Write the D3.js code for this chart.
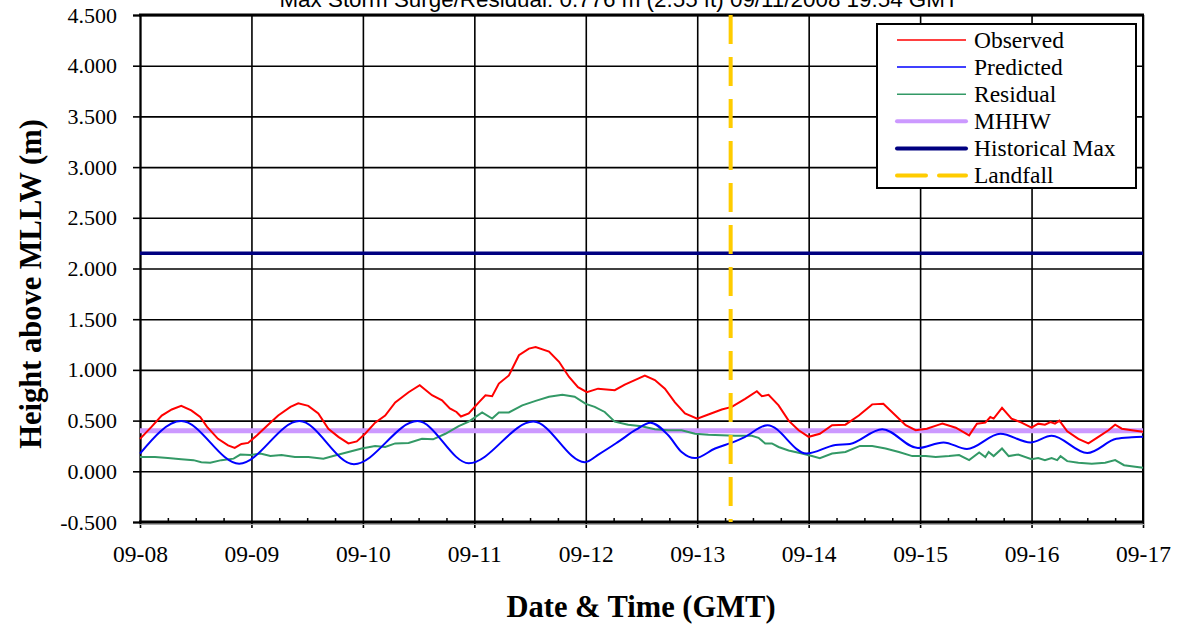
<!DOCTYPE html>
<html><head><meta charset="utf-8">
<script src="https://cdn.jsdelivr.net/npm/d3@7"></script>
<style>html,body{margin:0;padding:0;background:#fff}svg{display:block}</style>
</head><body>
<svg id="chart" width="1179" height="624"></svg>
<script>
// ---------- data (time in days since 09-08 00:00 GMT) ----------
const titleText = "Max Storm Surge/Residual: 0.776 m (2.55 ft) 09/11/2008 19:54 GMT";
const dayLabels = ["09-08","09-09","09-10","09-11","09-12","09-13","09-14","09-15","09-16","09-17"];
const yTickValues = [-0.5,0,0.5,1,1.5,2,2.5,3,3.5,4,4.5];
const seriesNames = ["Observed","Predicted","Residual","MHHW","Historical Max","Landfall"];

const obsDays = [0,0.105,0.195,0.285,0.37,0.46,0.54,0.6,0.7,0.79,0.85,0.91,0.97,1.05,1.15,1.24,1.35,1.42,1.51,1.6,1.69,1.78,1.87,1.945,2.02,2.11,2.2,2.29,2.41,2.51,2.62,2.71,2.78,2.84,2.88,2.95,3.04,3.1,3.16,3.22,3.31,3.4,3.49,3.55,3.67,3.76,3.85,3.93,4.01,4.11,4.26,4.35,4.44,4.53,4.62,4.71,4.8,4.89,5.0,5.1,5.22,5.31,5.43,5.535,5.58,5.64,5.73,5.82,5.91,6.0,6.1,6.21,6.33,6.45,6.57,6.67,6.78,6.87,6.96,7.06,7.17,7.2,7.32,7.44,7.51,7.585,7.63,7.66,7.735,7.82,7.91,8.0,8.06,8.12,8.17,8.21,8.25,8.32,8.42,8.51,8.6,8.69,8.75,8.81,8.9,9.0];
const obsValues = [0.32,0.44,0.55,0.61,0.645,0.60,0.535,0.44,0.32,0.255,0.23,0.27,0.28,0.355,0.46,0.55,0.635,0.67,0.645,0.57,0.42,0.34,0.275,0.295,0.37,0.48,0.55,0.68,0.78,0.85,0.75,0.70,0.62,0.585,0.54,0.57,0.68,0.75,0.74,0.865,0.945,1.145,1.21,1.225,1.18,1.08,0.93,0.83,0.78,0.815,0.80,0.855,0.90,0.945,0.90,0.815,0.68,0.57,0.52,0.56,0.61,0.635,0.715,0.79,0.74,0.755,0.65,0.50,0.405,0.34,0.37,0.455,0.46,0.55,0.66,0.665,0.55,0.455,0.405,0.42,0.46,0.47,0.43,0.355,0.47,0.48,0.535,0.52,0.625,0.52,0.48,0.43,0.47,0.46,0.485,0.47,0.50,0.395,0.32,0.275,0.34,0.405,0.46,0.42,0.405,0.39];

const predDays = [0,0.37,0.89,1.43,1.92,2.49,2.95,3.53,3.99,4.12,4.29,4.45,4.58,4.74,4.86,4.98,5.16,5.34,5.43,5.63,5.98,6.24,6.37,6.66,6.98,7.21,7.42,7.72,7.99,8.18,8.5,8.76,8.9,9.0];
const predValues = [0.175,0.495,0.075,0.495,0.07,0.495,0.08,0.49,0.09,0.17,0.29,0.41,0.48,0.355,0.19,0.13,0.225,0.295,0.34,0.455,0.175,0.26,0.27,0.415,0.23,0.285,0.22,0.37,0.285,0.35,0.18,0.32,0.335,0.34];

const resDays = [0,0.135,0.25,0.37,0.48,0.55,0.63,0.73,0.84,0.9,0.99,1.08,1.17,1.27,1.39,1.51,1.645,1.75,1.87,1.99,2.11,2.2,2.29,2.41,2.53,2.63,2.74,2.86,2.95,3.07,3.16,3.22,3.31,3.43,3.55,3.67,3.79,3.9,4.0,4.08,4.17,4.26,4.38,4.5,4.62,4.74,4.86,4.98,5.1,5.22,5.34,5.49,5.55,5.61,5.67,5.73,5.82,5.94,6.03,6.1,6.21,6.33,6.46,6.57,6.69,6.81,6.93,7.05,7.14,7.26,7.35,7.44,7.53,7.585,7.615,7.66,7.735,7.795,7.88,8.0,8.06,8.12,8.18,8.23,8.26,8.32,8.42,8.54,8.66,8.75,8.83,8.93,9.0];
const resValues = [0.14,0.14,0.13,0.12,0.11,0.09,0.085,0.11,0.125,0.165,0.16,0.175,0.15,0.16,0.14,0.14,0.125,0.155,0.19,0.225,0.25,0.24,0.275,0.28,0.32,0.315,0.37,0.445,0.49,0.58,0.52,0.58,0.58,0.65,0.695,0.735,0.755,0.735,0.665,0.635,0.585,0.49,0.46,0.445,0.415,0.405,0.405,0.37,0.36,0.355,0.35,0.35,0.33,0.275,0.275,0.24,0.205,0.175,0.15,0.13,0.175,0.19,0.25,0.25,0.225,0.19,0.15,0.15,0.14,0.15,0.16,0.11,0.185,0.14,0.19,0.15,0.225,0.15,0.165,0.12,0.13,0.11,0.13,0.11,0.15,0.10,0.085,0.075,0.085,0.11,0.06,0.045,0.035];

const mhhwValue = 0.40;
const histMaxValue = 2.15;
const landfallDay = 5.30;

// ---------- layout ----------
const svg = d3.select("#chart");
const L = 140, R = 1143, T = 15, B = 522;
const x = d3.scaleLinear().domain([0, 9]).range([L, R]);
const y = d3.scaleLinear().domain([-0.5, 4.5]).range([B, T]);
const serif = "'Times New Roman','Liberation Serif',serif";

// title (clipped at top of canvas, as in the original)
svg.append("text").attr("x", 619).attr("y", 7).attr("text-anchor", "middle")
  .attr("font-family", "Arial,'Liberation Sans',sans-serif").attr("font-size", 22.4)
  .text(titleText);

// horizontal gridlines
const gy = svg.append("g").attr("transform", `translate(${L},0)`)
  .call(d3.axisLeft(y).tickValues(yTickValues).tickSize(-(R - L)).tickFormat(""));
gy.select(".domain").remove();
gy.selectAll("line").attr("stroke", "#000").attr("stroke-width", 1.6);

// vertical gridlines
const gx = svg.append("g").attr("transform", `translate(0,${B})`)
  .call(d3.axisBottom(x).tickValues(d3.range(0, 10)).tickSize(-(B - T)).tickFormat(""));
gx.select(".domain").remove();
gx.selectAll("line").attr("stroke", "#000").attr("stroke-width", 1.6);

// left axis with outward ticks + labels
const ay = svg.append("g").attr("transform", `translate(${L},0)`)
  .call(d3.axisLeft(y).tickValues(yTickValues).tickSize(7).tickPadding(16)
    .tickFormat(v => v.toFixed(3)));
ay.select(".domain").attr("stroke", "#000").attr("stroke-width", 2);
ay.selectAll("line").attr("stroke", "#000").attr("stroke-width", 1.6);
ay.selectAll("text").attr("font-family", serif).attr("font-size", 22).attr("fill", "#000");

// bottom axis with outward ticks + labels
const ax = svg.append("g").attr("transform", `translate(0,${B})`)
  .call(d3.axisBottom(x).tickValues(d3.range(0, 10)).tickSize(6).tickPadding(17)
    .tickFormat((d, i) => dayLabels[i]));
ax.select(".domain").remove();
ax.selectAll("line").attr("stroke", "#000").attr("stroke-width", 1.6);
ax.selectAll("text").attr("font-family", serif).attr("font-size", 23.5).attr("fill", "#000");

// minor ticks (every 6 h, pointing up)
const minor = d3.range(0, 36).map(i => i / 4).filter(v => v % 1 !== 0);
const am = svg.append("g").attr("transform", `translate(0,${B})`)
  .call(d3.axisBottom(x).tickValues(minor).tickSize(-4).tickFormat(""));
am.select(".domain").remove();
am.selectAll("line").attr("stroke", "#000").attr("stroke-width", 1.5);

// plot frame
svg.append("line").attr("x1", L).attr("x2", R + 1).attr("y1", B + 2.5).attr("y2", B + 2.5)
  .attr("stroke", "#aaa").attr("stroke-width", 1);
svg.append("line").attr("x1", L - 1).attr("x2", R + 1).attr("y1", B).attr("y2", B)
  .attr("stroke", "#000").attr("stroke-width", 3);
svg.append("line").attr("x1", L - 1).attr("x2", R + 1).attr("y1", T).attr("y2", T)
  .attr("stroke", "#000").attr("stroke-width", 3);
svg.append("line").attr("x1", R).attr("x2", R).attr("y1", T).attr("y2", B)
  .attr("stroke", "#000").attr("stroke-width", 2);

// reference line: MHHW
svg.append("line").attr("x1", x(0)).attr("x2", x(9)).attr("y1", y(mhhwValue)).attr("y2", y(mhhwValue))
  .attr("stroke", "#cc99ff").attr("stroke-width", 5);

// series
const lineGen = d3.line().x(d => x(d[0])).y(d => y(d[1]));
const zip = (a, b) => a.map((v, i) => [v, b[i]]);
svg.append("path").datum(zip(resDays, resValues)).attr("d", lineGen)
  .attr("fill", "none").attr("stroke", "#339966").attr("stroke-width", 2);
svg.append("path").datum(zip(predDays, predValues)).attr("d", lineGen.curve(d3.curveMonotoneX))
  .attr("fill", "none").attr("stroke", "#0000ff").attr("stroke-width", 2);
lineGen.curve(d3.curveLinear);
svg.append("path").datum(zip(obsDays, obsValues)).attr("d", lineGen)
  .attr("fill", "none").attr("stroke", "#ff0000").attr("stroke-width", 2);

svg.append("line").attr("x1", x(0)).attr("x2", x(9)).attr("y1", y(histMaxValue)).attr("y2", y(histMaxValue))
  .attr("stroke", "#000080").attr("stroke-width", 3.5);

svg.append("line").attr("x1", x(landfallDay)).attr("x2", x(landfallDay)).attr("y1", y(4.5)).attr("y2", y(-0.5))
  .attr("stroke", "#ffcc00").attr("stroke-width", 4).attr("stroke-dasharray", "29,13");

// axis titles
svg.append("text").attr("x", 641).attr("y", 617).attr("text-anchor", "middle")
  .attr("font-family", serif).attr("font-weight", "bold").attr("font-size", 30.5)
  .text("Date & Time (GMT)");
svg.append("text").attr("transform", "translate(41,284) rotate(-90)").attr("text-anchor", "middle")
  .attr("font-family", serif).attr("font-weight", "bold").attr("font-size", 30.5)
  .text("Height above MLLW (m)");

// legend
const lg = svg.append("g");
lg.append("rect").attr("x", 877).attr("y", 24).attr("width", 259).attr("height", 164)
  .attr("fill", "#fff").attr("stroke", "#000").attr("stroke-width", 2);
const legStyles = [
  {c: "#ff0000", w: 1.5, d: null},
  {c: "#0000ff", w: 1.5, d: null},
  {c: "#339966", w: 1.5, d: null},
  {c: "#cc99ff", w: 4, d: null},
  {c: "#000080", w: 4, d: null},
  {c: "#ffcc00", w: 4, d: "29,13"}
];
seriesNames.forEach((name, i) => {
  const cy = 40 + i * 27.1;
  const s = legStyles[i];
  lg.append("line").attr("x1", 897).attr("x2", 966).attr("y1", cy).attr("y2", cy)
    .attr("stroke", s.c).attr("stroke-width", s.w).attr("stroke-dasharray", s.d)
    .attr("stroke-linecap", s.w > 2 ? "round" : "butt");
  lg.append("text").attr("x", 974).attr("y", cy + 7.5).attr("font-family", serif)
    .attr("font-size", 23.5).text(name);
});
</script>
</body></html>
